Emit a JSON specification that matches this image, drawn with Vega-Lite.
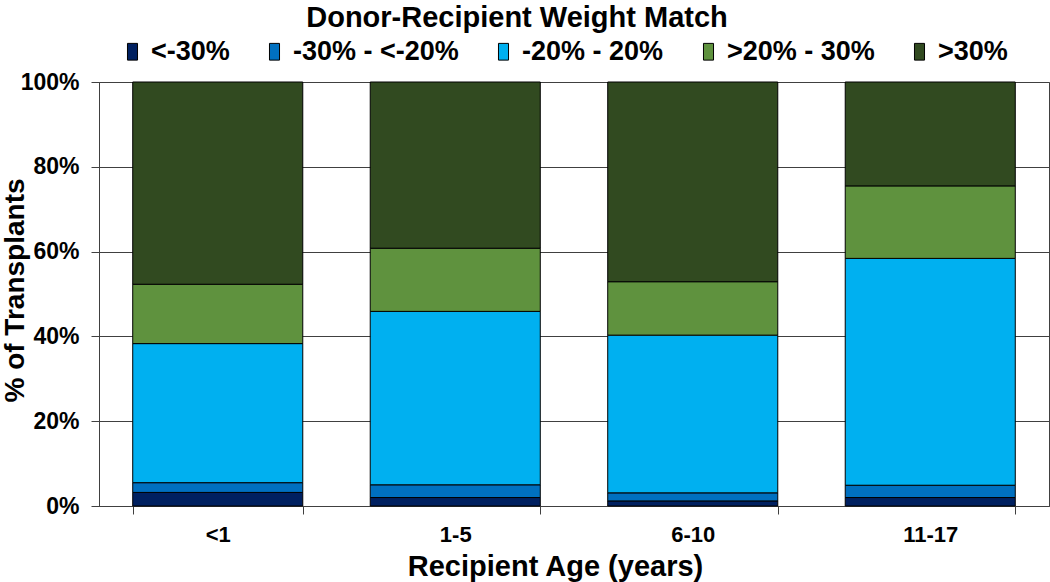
{
  "$schema": "https://vega.github.io/schema/vega-lite/v6.json",
  "width": 950,
  "height": 424,
  "autosize": {"type": "none"},
  "padding": {"left": 99, "top": 82, "right": 1, "bottom": 76},
  "background": "white",
  "title": {
    "text": "Donor-Recipient Weight Match",
    "font": "Liberation Sans",
    "fontSize": 29,
    "fontWeight": "bold",
    "color": "black",
    "anchor": "middle",
    "frame": "group",
    "dx": -57,
    "offset": 5
  },
  "config": {
    "view": {"stroke": "#404040", "strokeWidth": 1},
    "font": "Liberation Sans"
  },
  "data": {
    "values": [
      {"age": "<1", "match": "<-30%", "pct": 3.2, "ord": 1},
      {"age": "<1", "match": "-30% - <-20%", "pct": 2.3, "ord": 2},
      {"age": "<1", "match": "-20% - 20%", "pct": 32.8, "ord": 3},
      {"age": "<1", "match": ">20% - 30%", "pct": 14.0, "ord": 4},
      {"age": "<1", "match": ">30%", "pct": 47.7, "ord": 5},
      {"age": "1-5", "match": "<-30%", "pct": 2.0, "ord": 1},
      {"age": "1-5", "match": "-30% - <-20%", "pct": 3.0, "ord": 2},
      {"age": "1-5", "match": "-20% - 20%", "pct": 40.9, "ord": 3},
      {"age": "1-5", "match": ">20% - 30%", "pct": 14.9, "ord": 4},
      {"age": "1-5", "match": ">30%", "pct": 39.2, "ord": 5},
      {"age": "6-10", "match": "<-30%", "pct": 1.2, "ord": 1},
      {"age": "6-10", "match": "-30% - <-20%", "pct": 1.9, "ord": 2},
      {"age": "6-10", "match": "-20% - 20%", "pct": 37.2, "ord": 3},
      {"age": "6-10", "match": ">20% - 30%", "pct": 12.6, "ord": 4},
      {"age": "6-10", "match": ">30%", "pct": 47.1, "ord": 5},
      {"age": "11-17", "match": "<-30%", "pct": 2.0, "ord": 1},
      {"age": "11-17", "match": "-30% - <-20%", "pct": 2.9, "ord": 2},
      {"age": "11-17", "match": "-20% - 20%", "pct": 53.5, "ord": 3},
      {"age": "11-17", "match": ">20% - 30%", "pct": 17.1, "ord": 4},
      {"age": "11-17", "match": ">30%", "pct": 24.5, "ord": 5}
    ]
  },
  "mark": {"type": "bar", "stroke": "black", "strokeWidth": 1},
  "encoding": {
    "x": {
      "field": "age",
      "type": "nominal",
      "sort": ["<1", "1-5", "6-10", "11-17"],
      "scale": {"paddingInner": 0.284, "paddingOuter": 0.142},
      "axis": {
        "title": "Recipient Age (years)",
        "titleFont": "Liberation Sans",
        "titleFontSize": 29,
        "titleFontWeight": "bold",
        "titleColor": "black",
        "titleX": 456,
        "titleY": 60,
        "titleBaseline": "middle",
        "titleAlign": "center",
        "labelAngle": 0,
        "labelFont": "Liberation Sans",
        "labelFontSize": 22,
        "labelFontWeight": "bold",
        "labelColor": "black",
        "labelPadding": 10,
        "tickBand": "extent",
        "tickSize": 8,
        "tickColor": "#404040",
        "domainColor": "#404040",
        "grid": false
      }
    },
    "y": {
      "field": "pct",
      "type": "quantitative",
      "stack": "zero",
      "scale": {"domain": [0, 100]},
      "axis": {
        "title": "% of Transplants",
        "titleFont": "Liberation Sans",
        "titleFontSize": 28,
        "titleFontWeight": "bold",
        "titleColor": "black",
        "titleX": -84,
        "titleY": 208,
        "titleAngle": -90,
        "titleBaseline": "middle",
        "titleAlign": "center",
        "values": [0, 20, 40, 60, 80, 100],
        "labelExpr": "datum.value + '%'",
        "labelFont": "Liberation Sans",
        "labelFontSize": 23,
        "labelFontWeight": "bold",
        "labelColor": "black",
        "labelPadding": 12,
        "tickSize": 8,
        "tickColor": "#404040",
        "domainColor": "#404040",
        "grid": true,
        "gridColor": "#404040",
        "gridOpacity": 1
      }
    },
    "color": {
      "field": "match",
      "type": "nominal",
      "sort": ["<-30%", "-30% - <-20%", "-20% - 20%", ">20% - 30%", ">30%"],
      "scale": {
        "domain": ["<-30%", "-30% - <-20%", "-20% - 20%", ">20% - 30%", ">30%"],
        "range": ["#002060", "#0070C0", "#00B0F0", "#5F923E", "#314A20"]
      },
      "legend": {
        "title": null,
        "orient": "none",
        "direction": "horizontal",
        "legendX": 20,
        "legendY": -44,
        "symbolType": "M-0.6,-1H0.6V1H-0.6Z",
        "symbolSize": 280,
        "symbolStrokeColor": "black",
        "symbolStrokeWidth": 1,
        "symbolOpacity": 1,
        "labelFont": "Liberation Sans",
        "labelFontSize": 27,
        "labelFontWeight": "bold",
        "labelColor": "black",
        "labelOffset": 5,
        "columnPadding": 31,
        "labelLimit": 400
      }
    },
    "order": {"field": "ord", "type": "quantitative"}
  }
}
